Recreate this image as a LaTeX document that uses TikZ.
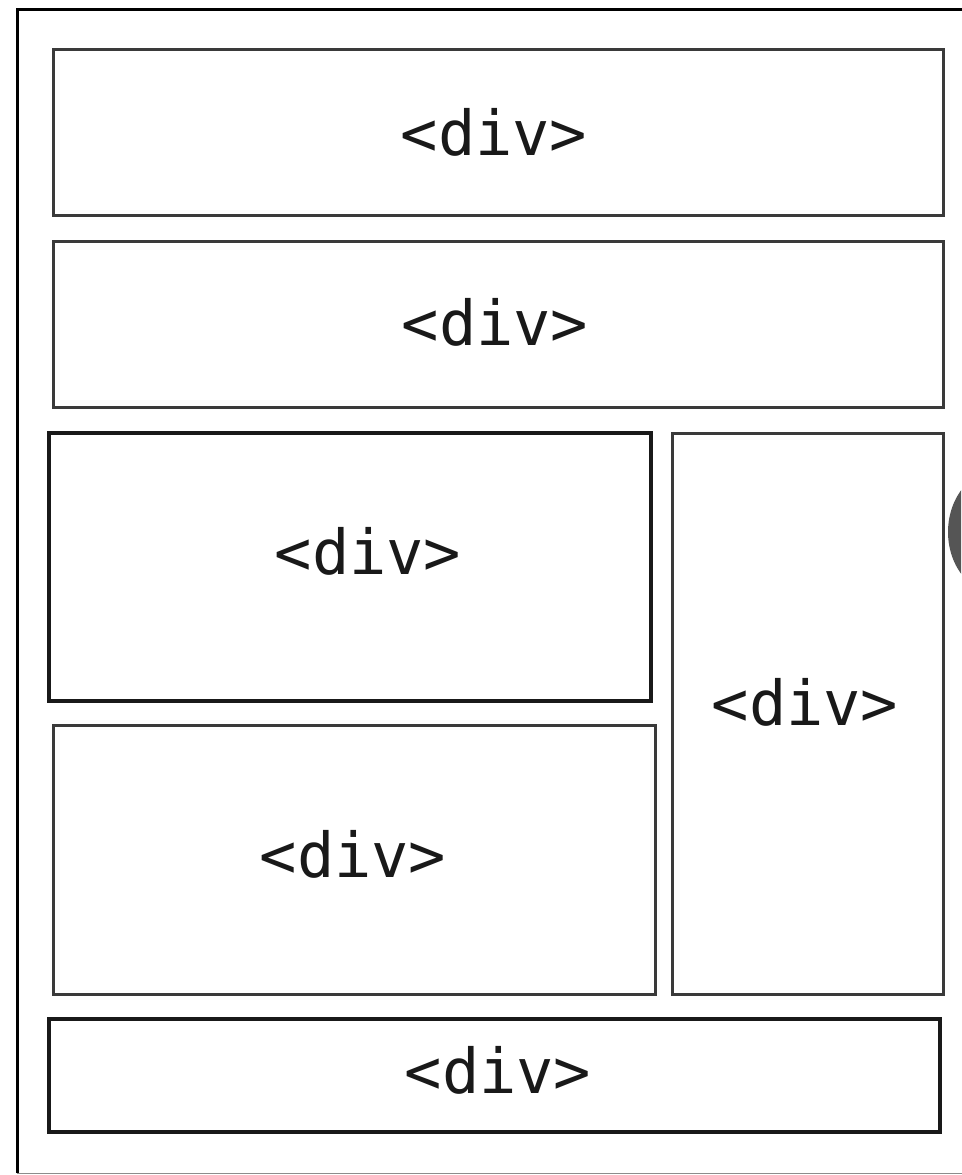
\documentclass[tikz,border=0pt]{standalone}
\usepackage{fontspec}
\newfontfamily\divmono{DejaVu Sans Mono}
\definecolor{boxgray}{HTML}{3A3A3A}
\definecolor{blobgray}{HTML}{555555}
\tikzset{
  divbox/.style={draw=boxgray, line width=3pt, fill=white},
  divboxdark/.style={draw=black!90, line width=3.2pt, fill=white},
  divlabel/.style={font=\divmono\fontsize{62}{62}\selectfont, anchor=base, inner sep=0pt, text=black!90}
}
\begin{document}
\begin{tikzpicture}[x=1pt,y=-1pt]
\useasboundingbox (0,0) rectangle (961,1175);
\fill[white] (0,0) rectangle (961,1175);
% partial blob at right edge
\begin{scope}
\clip (0,0) rectangle (961,1175);
\fill[blobgray] (1002,532) ellipse [x radius=54, y radius=64];
\end{scope}
% outer frame
\draw[black, line width=3pt] (17,1173) -- (17,9) -- (965,9);
\draw[black!45, line width=1.2pt] (17,1173.5) -- (965,1173.5);
% boxes
\draw[divbox] (53,49) rectangle (943,215) node[coordinate] (b1) {};
\draw[divbox] (53,241) rectangle (943,407) node[coordinate] (b2) {};
\draw[divboxdark] (49,433) rectangle (651,701) node[coordinate] (b3) {};
\draw[divbox] (672,433) rectangle (943,994) node[coordinate] (b4) {};
\draw[divbox] (53,725) rectangle (655,994) node[coordinate] (b5) {};
\draw[divboxdark] (49,1019) rectangle (940,1132) node[coordinate] (b6) {};
% labels
\node[divlabel] (t1) at (494,155) {<div>};
\node[divlabel] (t2) at (495,345) {<div>};
\node[divlabel] (t3) at (368,574) {<div>};
\node[divlabel] (t4) at (805,725) {<div>};
\node[divlabel] (t5) at (353,877) {<div>};
\node[divlabel] (t6) at (498,1093) {<div>};
\end{tikzpicture}
\end{document}
